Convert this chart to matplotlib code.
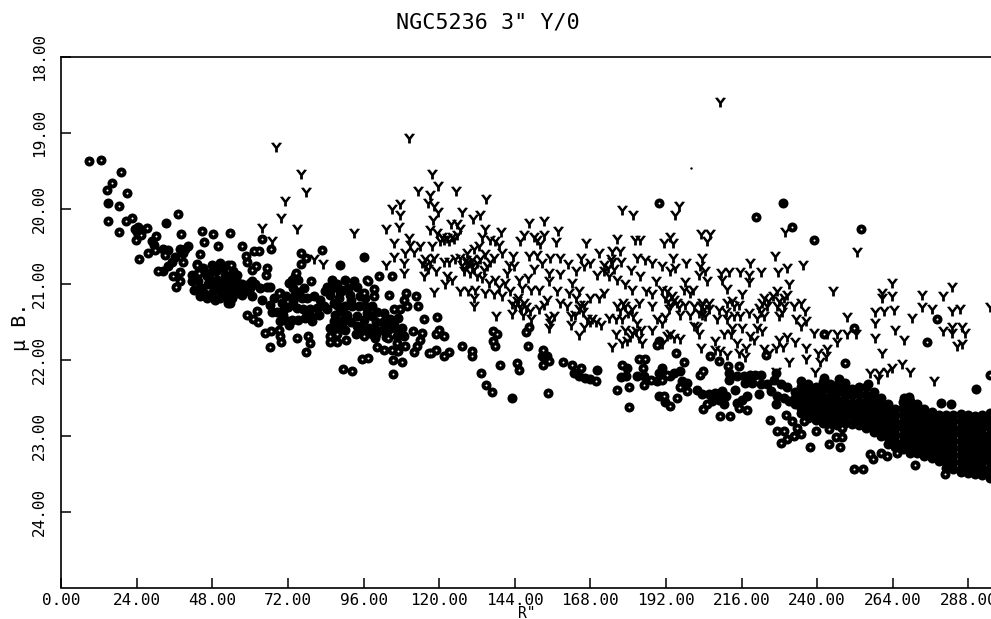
import matplotlib
matplotlib.use('Agg')
import matplotlib.pyplot as plt
from matplotlib.path import Path

# ring markers as (R, mu B)
rings_inner = [(8.9,19.37),(12.6,19.36),(19.0,19.52),(16.1,19.66),(14.4,19.75),(20.8,19.79),(18.5,19.96),
    (15.0,20.17),(20.5,20.16),(22.6,20.12),(18.2,20.31),(37.1,20.07),(38.1,20.33),(44.7,20.29),(48.2,20.33),
    (53.6,20.32),(45.3,20.44),(49.7,20.49),(30.1,20.36),(27.2,20.25),(23.6,20.41),(25.3,20.35),(24.7,20.67),
    (27.6,20.58),(29.7,20.55),(30.6,20.82),(33.1,20.61),(44.0,20.60),(38.7,20.71),(43.2,20.74),(35.5,20.89),
    (37.7,20.84),(37.7,20.96),(36.3,21.03),(43.7,20.85),(57.3,20.50),(58.7,20.62),(59.1,20.70),(61.2,20.56),
    (62.9,20.56),(61.8,20.76),(60.6,20.81),(63.7,20.40),(66.7,20.53),(65.2,20.78),(65.0,20.88),(53.8,20.75),
    (76.2,20.58),(77.7,20.65),(76.2,20.73),(82.7,20.55),(79.2,20.96),(74.5,20.85),(69.2,21.11)]
rings_mid = [(100.8,20.89),(105.1,20.89),(97.3,20.95),(99.2,21.06),(99.2,21.15),(96.0,21.11),(104.2,21.14),
    (109.6,21.12),(112.6,21.15),(108.7,21.21),(109.8,21.28),(113.2,21.28),(105.5,21.32),(107.4,21.32),
    (115.3,21.46),(116.8,21.90),(111.6,21.62),(111.9,21.89),(114.5,21.64),(114.0,21.73),(113.0,21.81),
    (109.2,21.81),(108.3,22.03),(105.3,22.00),(105.3,22.18),(106.9,21.88),(105.1,21.87),(97.3,21.97),
    (95.4,21.99),(92.3,22.14),(89.4,22.12),(77.8,21.89),(79.0,21.77),(78.2,21.68),(74.8,21.71),(66.3,21.83),
    (69.7,21.76),(69.5,21.68),(69.3,21.60),(64.7,21.64),(66.5,21.62),(62.3,21.35),(59.1,21.41),(60.8,21.46),
    (62.5,21.50),(85.2,21.76),(87.7,21.76),(90.5,21.74),(85.4,21.68),(87.7,21.66),(96.0,21.68),(100.2,21.82),
    (102.4,21.86),(103.6,21.71),(106.6,21.77),(97.2,20.94)]
rings_outer = [(119.3,21.43),(119.1,21.65),(121.4,21.68),(119.8,21.60),(117.4,21.90),(118.9,21.86),(121.4,21.94),
    (123.2,21.89),(127.3,21.81),(130.3,21.88),(130.4,21.95),(133.3,22.17),(134.9,22.33),(136.9,22.42),
    (139.3,22.07),(144.7,22.04),(145.4,22.13),(137.0,21.62),(138.4,21.66),(137.1,21.75),(137.8,21.81),
    (147.4,21.63),(148.6,21.56),(148.2,21.81),(152.9,21.86),(152.8,22.06),(154.8,22.01),(154.5,22.44),
    (159.2,22.02),(162.2,22.06),(164.9,22.10),(169.8,22.27),(178.1,22.07),(180.2,22.35),(176.3,22.40),
    (180.3,22.62),(183.4,21.99),(185.2,21.98),(184.8,22.10),(185.0,22.33),(187.3,22.26),(189.2,21.80),
    (189.9,19.92),(220.5,20.11),(232.1,20.24),(239.1,20.42),(253.8,20.27),(277.9,21.46),(274.8,21.76),
    (251.7,21.57),(242.1,21.65),(195.2,21.90),(197.6,22.02),(248.8,22.04),(294.8,22.19),(206.1,21.95),
    (208.8,22.01),(223.9,21.93),(211.7,22.08),(215.1,22.08),(203.7,22.14),(202.7,22.20),(190.7,22.26),
    (192.3,22.19),(196.6,22.36),(191.5,22.47),(193.4,22.60),(195.5,22.50),(198.7,22.41),(203.8,22.64),
    (209.3,22.74),(212.2,22.74),(215.1,22.63),(217.8,22.66),(205.0,22.58)]
rings_below_band = [(224.9,22.79),(230.0,22.72),(231.9,22.80),(235.8,22.80),(239.5,22.94),(243.7,22.91),(248.0,22.89),
    (227.3,22.94),(229.4,22.93),(228.4,23.09),(230.5,23.04),(232.6,23.00),(234.9,22.97),(233.7,22.89),
    (237.6,23.15),(243.9,23.10),(245.9,23.02),(248.0,23.02),(247.1,23.15),(256.7,23.24),(257.7,23.30),
    (260.2,23.22),(262.3,23.26),(251.7,23.44),(254.5,23.44),(265.2,23.22),(271.1,23.38),(280.6,23.50)]

# filled-in discs, overlapping so no centre shows
solid_single = [(14.8,19.93),(33.3,20.19),(88.4,20.75),(96.0,20.64),(143.1,22.50),(229.0,19.92),(290.4,22.38)]
blob_inner = [(23.4,20.27),(24.4,20.24),(25.5,20.28),(24.2,20.31),(28.7,20.43),(29.5,20.48),(32.4,20.54),(34.0,20.55),
    (32.4,20.82),(34.0,20.76),(35.1,20.70),(36.1,20.64),(37.7,20.54),(39.3,20.54),(40.3,20.50),(38.7,20.58),
    (41.4,20.87),(41.4,20.96),(43.0,21.07),(42.0,21.07),(44.1,21.16),(46.2,21.18),(48.8,21.20),(50.4,21.18),
    (53.1,21.25),(43.5,20.85),(43.5,20.96),(43.2,20.73),(46.2,20.89),(47.3,20.85),(46.7,21.00),(49.4,20.94),
    (48.8,21.05),(50.4,20.72),(51.5,20.78),(53.1,20.74),(52.0,20.87),(51.0,20.98),(53.1,20.92),(50.4,21.07),
    (53.1,21.05),(53.1,21.16),(55.5,21.05),(57.0,21.12),(58.5,21.02),(53.6,21.24),(56.7,21.11),(59.9,20.98),
    (63.1,21.05),(66.3,21.03)]
blob_mid = [(54.7,20.96),(56.2,20.98),(54.1,21.07),(55.7,21.11),(54.1,21.18),(57.3,21.14),(60.5,20.96),(61.6,21.00),
    (60.0,21.05),(65.3,21.03),(60.5,21.16),(63.9,21.20),(58.4,21.09),(67.4,21.18),(66.3,21.27),(66.9,21.36),
    (68.4,21.36),(69.5,21.11),(70.8,21.33),(72.2,20.98),(73.2,20.94),(74.3,20.89),(75.3,20.94),(73.7,21.05),
    (74.3,21.14),(73.7,21.22),(74.8,21.31),(76.4,21.18),(78.0,21.18),(80.1,21.15),(76.9,21.32),(79.0,21.33),
    (81.2,21.31),(83.3,21.28),(84.3,21.33),(81.7,21.40),(79.6,21.43),(77.4,21.44),(75.3,21.47),(73.2,21.47),
    (71.1,21.47),(69.5,21.49),(72.2,21.53),(79.6,21.49),(84.3,21.03),(85.9,20.94),(83.8,21.09),(85.4,21.14),
    (87.5,21.00),(88.1,21.18),(90.2,20.94),(89.6,21.07),(92.8,20.96),(93.9,21.03),(91.8,21.14),(87.5,21.27),
    (90.2,21.29),(92.3,21.28),(94.4,21.28),(96.5,21.18),(96.5,21.28),(98.7,21.29),(97.1,21.38),(100.2,21.36),
    (102.4,21.38),(98.7,21.42),(104.5,21.46),(105.5,21.53),(87.0,21.40),(86.5,21.49),(85.4,21.58),(87.5,21.58),
    (89.6,21.47),(90.7,21.40),(90.2,21.60),(93.9,21.55),(93.7,21.66),(95.5,21.59),(97.6,21.58),(99.7,21.60),
    (101.8,21.60),(103.9,21.60),(106.0,21.58),(108.2,21.58),(108.7,21.68),(106.6,21.68),(99.7,21.71),
    (106.6,21.88),(98.7,21.66)]
blob_outer = [(152.7,21.95),(154.3,21.95),(162.7,22.17),(164.3,22.21),(166.4,22.23),(168.0,22.25),(170.1,22.13),
    (179.7,22.10),(177.6,22.22),(179.2,22.21),(182.9,22.21),(185.0,22.21),(189.8,22.17),(189.0,22.28),
    (189.8,22.47),(189.8,21.75),(190.7,22.10),(193.4,22.21),(194.4,22.17),(196.4,22.14),(197.1,22.28),
    (198.7,22.30),(191.8,22.55),(201.9,22.39),(203.4,22.45),(205.6,22.45),(207.7,22.43),(209.8,22.41),
    (210.9,22.47),(208.7,22.52),(210.3,22.58),(206.6,22.54),(216.2,22.52),(217.8,22.47),(214.0,22.39),
    (214.6,22.56),(211.9,22.17),(211.9,22.26),(214.6,22.21),(216.7,22.21),(218.8,22.19),(220.4,22.19),
    (222.0,22.19),(217.2,22.30),(219.4,22.30),(222.0,22.32),(224.1,22.32),(226.8,22.17),(226.2,22.26),
    (228.4,22.32),(230.5,22.36),(225.2,22.41),(227.3,22.47),(229.4,22.50),(226.8,22.58),(221.5,22.45),
    (231.0,22.54),(279.2,22.56),(282.4,22.58)]
blob_fill = [(44.5,21.05),(45.0,20.78),(47.8,20.95),(48.0,21.12),(49.0,20.82),(51.0,21.12),(52.5,21.00),(54.5,20.82),
    (55.8,20.88),(57.5,21.00),(45.0,21.10),(48.0,20.75),(70.0,21.25),(71.5,21.15),(72.0,21.30),(75.5,21.10),
    (77.0,21.05),(70.5,21.40),(78.0,21.40),(82.0,21.20),(86.0,21.05),(86.5,21.25),(88.5,21.10),(91.0,21.05),
    (92.0,21.20),(88.5,21.35),(95.0,21.15),(94.0,21.42),(96.0,21.47),(100.0,21.50),(102.0,21.50),(104.0,21.52),
    (92.0,21.50),(96.0,21.60),(100.0,21.65),(103.0,21.70),(107.0,21.45),(89.0,21.55),(242.2,22.24),(247.0,22.25),
    (267.5,22.50),(269.0,22.48),(256.0,22.32)]

# the dense band at the right, one column of discs per R
band_r = [233.0,235.0,237.2,239.5,241.8,244.1,246.4,248.7,251.0,253.3,255.6,257.9,260.2,262.5,264.8,267.1,269.4,
    271.7,274.0,276.3,278.6,280.9,283.2,285.5,287.8,290.1,292.4,294.7]
band_mu = [[22.42,22.50,22.58],
    [22.27,22.36,22.45,22.54,22.63,22.70],
    [22.32,22.41,22.50,22.59,22.68,22.76],
    [22.35,22.43,22.53,22.62,22.71,22.79],
    [22.29,22.38,22.48,22.57,22.66,22.75,22.83],
    [22.31,22.40,22.49,22.58,22.68,22.77,22.85],
    [22.33,22.42,22.52,22.61,22.70,22.79,22.85],
    [22.30,22.39,22.47,22.56,22.66,22.75,22.83],
    [22.38,22.46,22.56,22.65,22.74,22.84],
    [22.36,22.45,22.55,22.64,22.73,22.82,22.86],
    [22.36,22.46,22.55,22.63,22.73,22.82,22.90],
    [22.42,22.51,22.60,22.69,22.78,22.87,22.95],
    [22.50,22.58,22.67,22.76,22.85,22.93,23.00],
    [22.58,22.67,22.76,22.85,22.93,23.02,23.10],
    [22.64,22.73,22.81,22.90,22.99,23.08,23.15],
    [22.55,22.63,22.72,22.81,22.90,22.99,23.08,23.17],
    [22.54,22.62,22.71,22.80,22.89,22.98,23.07,23.16,23.23],
    [22.58,22.67,22.76,22.85,22.94,23.03,23.12,23.22],
    [22.65,22.74,22.83,22.92,23.01,23.10,23.19,23.26],
    [22.68,22.77,22.86,22.95,23.04,23.13,23.22,23.29],
    [22.72,22.80,22.89,22.98,23.07,23.16,23.25,23.33],
    [22.72,22.81,22.90,22.99,23.08,23.17,23.26,23.35,23.42],
    [22.72,22.80,22.89,22.98,23.07,23.16,23.25,23.34,23.43],
    [22.71,22.80,22.89,22.98,23.07,23.16,23.25,23.34,23.43,23.48],
    [22.72,22.81,22.90,22.99,23.08,23.17,23.26,23.35,23.44,23.49],
    [22.74,22.83,22.92,23.01,23.10,23.19,23.28,23.37,23.45,23.50],
    [22.72,22.81,22.90,22.99,23.08,23.17,23.26,23.35,23.44,23.52],
    [22.70,22.79,22.88,22.97,23.06,23.15,23.24,23.33,23.42,23.50,23.56]]

# Y markers
y_left = [(68.2,19.19),(76.2,19.54),(77.6,19.78),(71.1,19.90),(69.8,20.13),(63.8,20.25),(74.8,20.27),(66.9,20.43),
    (80.1,20.66),(83.1,20.73),(110.5,19.07),(117.7,19.54),(119.5,19.70),(113.4,19.77),(125.4,19.77),(117.0,19.82),
    (116.6,19.93),(118.2,19.97),(119.5,20.04),(135.0,19.88),(107.5,19.94),(105.1,20.00),(107.5,20.09),(107.1,20.24),
    (103.2,20.27),(93.1,20.32),(127.1,20.05),(130.6,20.14),(133.1,20.09),(118.0,20.15),(123.7,20.20),(125.6,20.20),
    (126.7,20.27),(117.2,20.28),(119.3,20.32),(120.9,20.37),(122.4,20.39),(124.0,20.37),(125.6,20.35),(120.3,20.43),
    (110.3,20.39),(110.8,20.48),(105.5,20.45),(114.0,20.49),(117.7,20.50),(109.2,20.59),(111.9,20.57),(105.5,20.64),
    (103.2,20.74),(108.9,20.72),(108.7,20.85),(114.5,20.72),(115.6,20.67),(117.2,20.70),(118.2,20.65),(115.6,20.76),
    (116.6,20.80),(119.1,20.83),(115.2,20.89),(118.2,21.10)]
y_mid_a = [(121.4,20.70),(123.0,20.71),(125.1,20.67),(126.7,20.65),(128.8,20.59),(131.0,20.54),(132.5,20.50),(133.6,20.37),
    (134.6,20.27),(136.2,20.41),(137.8,20.43),(138.9,20.48),(139.6,20.31),(140.0,20.59),(137.3,20.65),(143.4,20.62),
    (127.2,20.74),(128.8,20.72),(130.4,20.76),(127.8,20.83),(129.9,20.85),(132.0,20.72),(134.1,20.81),(135.2,20.76),
    (122.4,20.89),(124.0,20.94),(121.9,20.99),(132.0,20.89),(133.6,20.92),(135.7,20.98),(137.8,20.94),(126.7,21.09),
    (129.3,21.09),(131.5,21.07),(134.6,21.11),(137.3,21.13),(139.9,21.16),(138.9,21.03),(130.9,21.18),(131.1,21.29),
    (142.1,20.74),(143.7,20.76),(141.5,20.85),(141.0,20.98),(145.2,20.94),(148.2,20.91),(142.6,21.09),(146.3,21.05),
    (149.0,21.07),(151.6,21.07),(146.8,21.24),(144.7,21.22),(144.2,21.29),(145.8,21.29),(148.7,21.35),(151.6,21.33),
    (153.2,21.27),(154.3,21.20),(154.8,21.44),(156.4,21.42),(155.3,21.51),(154.8,21.57),(149.0,21.46),(146.6,21.41),
    (143.1,21.39),(138.1,21.42),(148.6,20.19),(153.2,20.16)]
y_mid_b = [(146.8,20.35),(150.0,20.37),(151.1,20.41),(153.2,20.35),(152.1,20.47),(145.8,20.43),(157.6,20.30),(157.2,20.44),
    (148.6,20.62),(151.1,20.61),(152.7,20.72),(155.3,20.65),(158.5,20.65),(160.8,20.73),(150.2,20.80),(154.8,20.85),
    (158.5,20.86),(154.8,20.95),(162.2,20.98),(163.3,20.83),(164.9,20.65),(166.6,20.46),(168.0,20.72),(165.9,20.76),
    (170.7,20.59),(174.7,20.56),(177.3,20.56),(176.5,20.40),(182.0,20.42),(183.9,20.42),(178.1,20.02),(181.6,20.09),
    (172.3,20.74),(174.9,20.70),(177.6,20.71),(182.9,20.65),(185.2,20.68),(187.6,20.72),(180.8,20.81),(183.9,20.89),
    (188.7,20.95),(170.2,20.87),(172.3,20.83),(173.9,20.89),(176.5,20.94),(179.1,21.00),(181.3,21.07),(185.5,21.09),
    (187.6,21.13),(157.4,21.09),(161.1,21.11),(164.3,21.09),(163.3,21.18),(168.0,21.18),(170.7,21.18),(172.3,21.11),
    (158.5,21.24),(160.6,21.29),(161.7,21.42),(161.7,21.53),(164.3,21.33),(165.9,21.27),(167.0,21.46),(168.6,21.46),
    (166.1,21.56),(171.4,21.53),(164.3,21.67),(173.9,21.44),(176.0,21.46),(178.1,21.46),(176.5,21.29),(179.1,21.29),
    (181.3,21.33),(183.4,21.24),(187.6,21.29),(189.2,21.46),(187.6,21.60),(179.1,21.60),(182.9,21.51),(176.0,21.66),
    (181.3,21.64),(183.4,21.71),(184.5,21.77),(178.1,21.77),(179.7,21.75),(174.7,21.82)]
y_right_a = [(209.1,18.59),(196.0,19.96),(195.0,20.08),(193.2,20.37),(191.3,20.45),(194.2,20.45),(203.1,20.33),(206.1,20.34),
    (205.0,20.43),(194.2,20.65),(203.4,20.65),(190.7,20.76),(195.0,20.78),(193.4,20.83),(198.5,20.72),(202.7,20.76),
    (204.5,20.83),(202.4,20.87),(205.0,20.96),(198.1,20.97),(197.6,21.07),(200.6,21.07),(199.7,21.12),(190.7,21.07),
    (192.3,21.09),(193.9,21.16),(191.8,21.18),(193.4,21.27),(195.5,21.24),(198.1,21.27),(200.8,21.29),(203.4,21.24),
    (205.6,21.24),(204.0,21.33),(204.5,21.42),(202.4,21.38),(196.6,21.41),(199.7,21.41),(191.8,21.43),(190.7,21.51),
    (201.9,21.56),(200.8,21.55),(202.4,21.66),(193.4,21.66),(192.3,21.68),(194.4,21.71),(196.6,21.72),(190.7,21.79),
    (203.1,21.84),(207.7,21.75),(214.6,21.78),(208.7,21.34),(211.4,21.46),(208.2,21.46),(213.0,21.22),(216.2,21.13),
    (215.1,21.27),(213.5,21.42),(215.6,21.42),(216.2,21.57),(210.3,21.66),(212.5,21.66),(213.0,21.57),(218.3,21.38),
    (221.5,21.31),(223.1,21.18),(224.1,21.29),(220.9,21.44),(223.1,21.42),(227.3,21.09),(229.4,21.18),(227.3,21.29),
    (228.9,21.36),(227.8,21.42),(232.6,21.29),(234.7,21.24),(236.0,21.35)]
y_right_b = [(209.5,20.85),(211.9,20.84),(215.6,20.84),(218.3,20.87),(222.0,20.84),(227.5,20.84),(218.6,20.72),(226.6,20.62),
    (230.5,20.78),(235.6,20.74),(231.1,20.99),(245.1,21.09),(252.7,20.57),(229.9,20.31),(209.8,20.94),(211.4,21.06),
    (218.3,20.97),(233.4,21.46),(236.3,21.49),(234.7,21.55),(249.6,21.43),(239.0,21.64),(246.2,21.65),(246.2,21.76),
    (249.6,21.66),(252.2,21.66),(243.2,21.66),(220.9,21.57),(222.5,21.62),(218.8,21.68),(219.9,21.73),(227.8,21.73),
    (230.5,21.69),(233.1,21.76),(229.2,21.82),(226.8,21.84),(223.1,21.85),(224.6,21.90),(217.5,21.84),(217.2,21.96),
    (236.6,21.84),(243.2,21.85),(240.2,21.91),(242.7,21.94),(236.3,21.98),(230.9,22.02),(240.9,22.03),(239.3,22.16),
    (226.8,22.15),(207.7,21.87),(209.3,21.88),(211.4,21.93),(215.1,21.90),(258.3,21.36),(261.2,21.35),(264.4,21.34),
    (258.3,21.51),(258.3,21.71),(260.7,21.90),(263.8,20.98),(260.7,21.11),(260.7,21.18),(263.8,21.15),(273.2,21.14),
    (279.9,21.16),(282.8,21.04),(273.2,21.30),(276.3,21.33),(282.8,21.35),(285.3,21.32),(294.8,21.30),(270.2,21.45),
    (264.8,21.60),(267.4,21.74),(279.9,21.62),(282.8,21.56),(282.8,21.64),(286.0,21.56),(286.9,21.64),(284.5,21.81),
    (286.1,21.79),(266.8,22.05),(269.4,22.15),(256.8,22.17),(259.6,22.17),(262.3,22.15),(263.9,22.10),(259.3,22.25),
    (277.1,22.27)]
y_dense = [(128.5,20.68),(129.5,20.72),(130.5,20.68),(131.0,20.80),(128.0,20.78),(133.0,20.66),(134.5,20.60),(136.0,20.70),
    (121.5,20.42),(123.2,20.43),(124.8,20.40),(145.0,21.18),(143.0,21.26),(146.0,21.32),(147.5,21.30),(164.8,21.27),
    (165.5,21.36),(163.2,21.40),(167.8,21.50),(169.8,21.50),(177.5,21.34),(180.0,21.38),(178.5,21.25),(181.5,21.42),
    (180.5,21.70),(182.5,21.62),(184.0,21.60),(173.5,20.78),(175.5,20.80),(174.5,20.66),(192.5,21.22),(194.5,21.20),
    (193.0,21.32),(196.0,21.30),(203.0,21.28),(205.5,21.32),(203.5,21.40),(211.5,21.24),(213.5,21.28),(211.0,21.36),
    (222.5,21.24),(224.5,21.22),(222.0,21.36),(228.0,21.22),(229.5,21.28),(226.0,21.16),(230.5,21.14)]
speck = [(200.0,19.47)]

xtick_vals = [0, 24, 48, 72, 96, 120, 144, 168, 192, 216, 240, 264, 288]
xtick_labels = ['0.00', '24.00', '48.00', '72.00', '96.00', '120.00', '144.00', '168.00', '192.00', '216.00', '240.00', '264.00', '288.00']
ytick_vals = [18, 19, 20, 21, 22, 23, 24]
ytick_labels = ['18.00', '19.00', '20.00', '21.00', '22.00', '23.00', '24.00']

plt.rcParams['font.family'] = 'DejaVu Sans Mono'

W, H = 991, 619
fig = plt.figure(figsize=(W / 100, H / 100), dpi=100)
ax = fig.add_axes([61.2 / W, 1 - 587.5 / H, 1 - 61.2 / W, (587.5 - 57) / H])

def xy(pairs):
    return [p[0] for p in pairs], [p[1] for p in pairs]

# heavy plotter Y, the arms run into a thick join
y_marker = Path([(-0.56, 0.46), (-0.28, 0.5), (0, 0.14), (0.28, 0.5), (0.56, 0.46), (0.14, -0.1),
                 (0.14, -0.5), (-0.14, -0.5), (-0.14, -0.1), (-0.56, 0.46)], closed=True)

disc = dict(s=52, c='black', linewidths=0, zorder=3)
hole = dict(s=2.0, c='white', linewidths=0, zorder=5)
y_style = dict(marker=y_marker, s=64, c='black', linewidths=0, zorder=2)

for pts in [y_left, y_mid_a, y_mid_b, y_right_a, y_right_b, y_dense]:
    ax.scatter(*xy(pts), **y_style)

for pts in [solid_single, blob_inner, blob_mid, blob_outer, blob_fill]:
    ax.scatter(*xy(pts), **disc)
for r, mus in zip(band_r, band_mu):
    ax.scatter([r] * len(mus), mus, **disc)
for pts in [rings_inner, rings_mid, rings_outer, rings_below_band]:
    ax.scatter(*xy(pts), **disc)
    ax.scatter(*xy(pts), **hole)
ax.scatter(*xy(speck), s=3, c='black', linewidths=0)

ax.set_xlim(0, (W - 61.2) / 3.15)
ax.set_ylim(25, 18)
ax.set_xticks(xtick_vals)
ax.set_xticklabels(xtick_labels, fontsize=11.5)
ax.set_yticks(ytick_vals)
ax.set_yticklabels(ytick_labels, fontsize=11.5, rotation=90, va='center')
ax.tick_params(axis='both', direction='in', length=7.5, width=1.1)
ax.tick_params(axis='x', pad=4)
ax.tick_params(axis='y', pad=10)
for side in ['left', 'bottom', 'top']:
    ax.spines[side].set_linewidth(1.2)
ax.spines['right'].set_visible(False)

fig.text(487.5 / W, 1 - 22 / H, 'NGC5236 3" Y/0', fontsize=15.7, ha='center', va='center')
fig.text(20 / W, 1 - 327 / H, 'μ B.', fontsize=14.5, rotation=90, ha='center', va='center')
fig.text(527 / W, 1 - 613 / H, 'R"', fontsize=10.5, ha='center', va='center')

fig.savefig('out.png', dpi=100)
